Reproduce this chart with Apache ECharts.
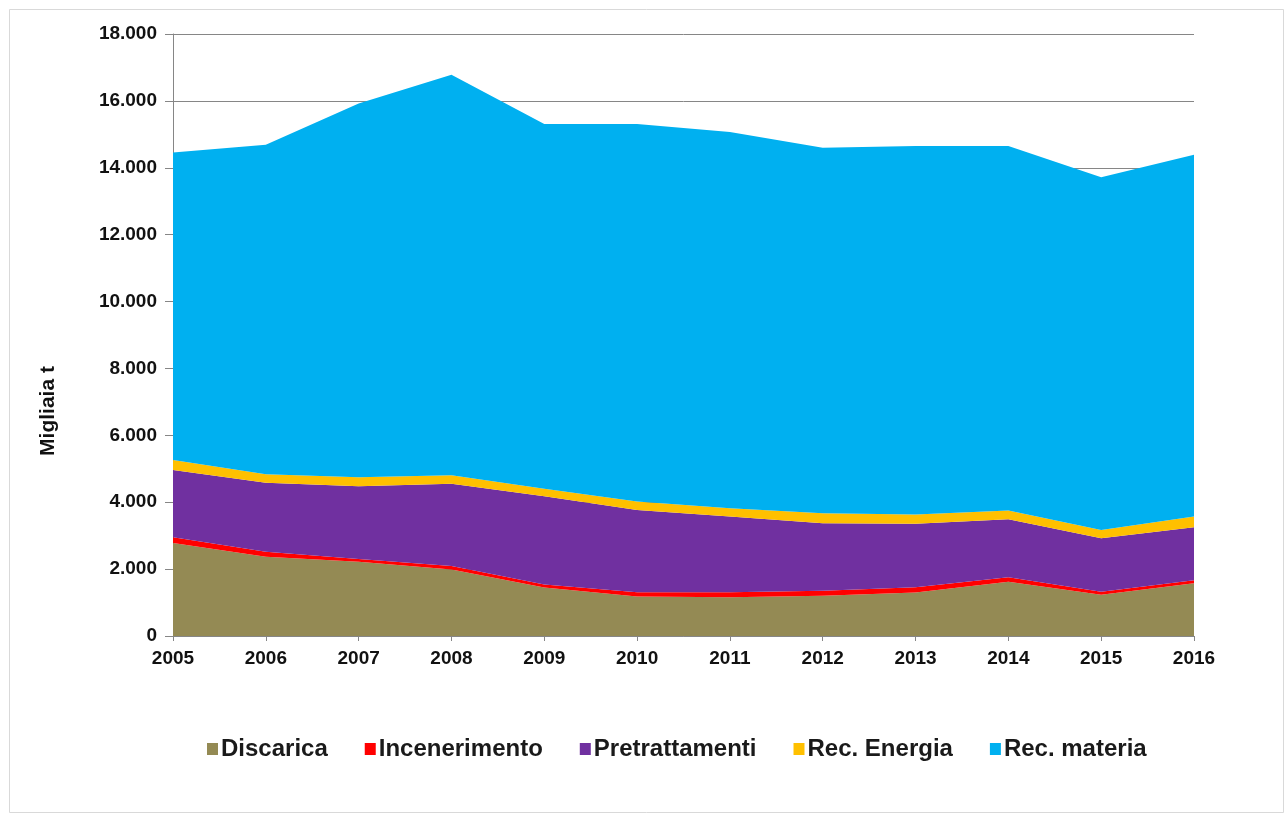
<!DOCTYPE html>
<html>
<head>
<meta charset="utf-8">
<script src="https://cdn.jsdelivr.net/npm/echarts@6/dist/echarts.min.js"></script>
<style>
html,body{margin:0;padding:0;background:#fff;}
#chart{width:1287px;height:818px;}
</style>
</head>
<body>
<div id="chart"></div>
<script>
const years = ['2005','2006','2007','2008','2009','2010','2011','2012','2013','2014','2015','2016'];
const discarica      = [2780, 2370, 2220, 1990, 1450, 1180, 1160, 1200, 1300, 1620, 1230, 1580];
const incenerimento  = [170, 150, 80, 100, 90, 130, 150, 150, 160, 140, 90, 90];
const pretrattamenti = [2010, 2060, 2180, 2460, 2640, 2460, 2260, 2020, 1900, 1730, 1600, 1580];
const recEnergia     = [300, 260, 270, 260, 220, 250, 250, 300, 270, 260, 250, 320];
const recMateria     = [9200, 9850, 11170, 11970, 10910, 11290, 11250, 10930, 11020, 10900, 10550, 10820];
const seriesNames = ['Discarica','Incenerimento','Pretrattamenti','Rec. Energia','Rec. materia'];
const colors = ['#948A54','#FF0000','#7030A0','#FFC000','#00B0F0'];
const yAxisTitle = 'Migliaia t';

const dataSets = [discarica, incenerimento, pretrattamenti, recEnergia, recMateria];

function fmt(v){
  return String(v).replace(/\B(?=(\d{3})+(?!\d))/g, '.');
}

const chart = echarts.init(document.getElementById('chart'), null, {renderer:'canvas'});
const FONT = '"Liberation Sans", Arial, sans-serif';

chart.setOption({
  animation:false,
  backgroundColor:'#ffffff',
  color: colors,
  grid:{left:173, right:93, top:34, bottom:182, containLabel:false},
  legend:{
    data: seriesNames,
    left: 202,
    top: 732,
    icon: 'rect',
    itemWidth: 11,
    itemHeight: 12,
    itemGap: 37,
    textStyle:{fontFamily:FONT, fontSize:24, fontWeight:'bold', color:'#1a1a1a', padding:[0,0,0,-2]}
  },
  xAxis:{
    type:'category',
    data: years,
    boundaryGap:false,
    axisLine:{show:true, lineStyle:{color:'#868686', width:1}},
    axisTick:{show:true, length:5, lineStyle:{color:'#868686'}},
    axisLabel:{fontFamily:FONT, fontSize:19, fontWeight:'bold', color:'#111', margin:13},
    splitLine:{show:false}
  },
  yAxis:{
    type:'value',
    min:0, max:18000, interval:2000,
    axisLine:{show:true, lineStyle:{color:'#868686', width:1}},
    axisTick:{show:true, length:8, lineStyle:{color:'#868686'}},
    axisLabel:{fontFamily:FONT, fontSize:19, fontWeight:'bold', color:'#111', margin:16, formatter: v => fmt(v)},
    splitLine:{show:true, lineStyle:{color:'#868686', width:1}}
  },
  graphic:[
    {type:'rect', shape:{x:9.5, y:9.5, width:1274, height:803}, style:{fill:'none', stroke:'#d9d9d9', lineWidth:1}, z:-10},
    {type:'text', x:48, y:411, rotation:Math.PI/2,
     style:{text:yAxisTitle, font:'bold 21px "Liberation Sans", Arial, sans-serif', fill:'#111', textAlign:'center', textVerticalAlign:'middle'}}
  ],
  series: seriesNames.map((name,i)=>({
    name: name,
    type:'line',
    stack:'total',
    data: dataSets[i],
    showSymbol:false,
    symbol:'none',
    lineStyle:{width:0},
    areaStyle:{color:colors[i], opacity:1},
    itemStyle:{color:colors[i]}
  }))
});
</script>
</body>
</html>
